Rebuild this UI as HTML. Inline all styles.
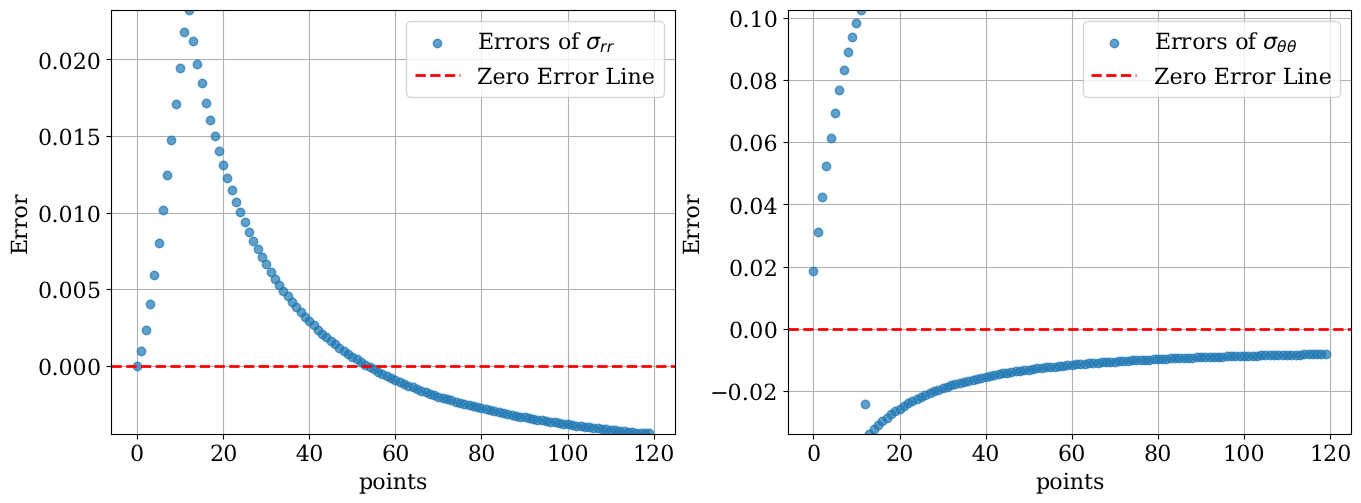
<!DOCTYPE html>
<html><head><meta charset="utf-8"><title>Error plots</title>
<style>html,body{margin:0;padding:0;background:#fff}svg{display:block}</style></head>
<body>
<svg width="1361" height="503" viewBox="0 0 1361 503">
<rect width="1361" height="503" fill="#fff"/>
<clipPath id="c1"><rect x="111.50" y="10.50" width="564.00" height="424.00"/></clipPath>
<g fill="#b0b0b0">
<rect x="136.944" y="10.5" width="1.111" height="424.0"/>
<rect x="222.944" y="10.5" width="1.111" height="424.0"/>
<rect x="308.944" y="10.5" width="1.111" height="424.0"/>
<rect x="394.944" y="10.5" width="1.111" height="424.0"/>
<rect x="480.944" y="10.5" width="1.111" height="424.0"/>
<rect x="567.944" y="10.5" width="1.111" height="424.0"/>
<rect x="653.944" y="10.5" width="1.111" height="424.0"/>
<rect x="111.5" y="365.944" width="564.0" height="1.111"/>
<rect x="111.5" y="288.944" width="564.0" height="1.111"/>
<rect x="111.5" y="212.944" width="564.0" height="1.111"/>
<rect x="111.5" y="135.944" width="564.0" height="1.111"/>
<rect x="111.5" y="58.944" width="564.0" height="1.111"/>
</g>
<g clip-path="url(#c1)" fill="#1f77b4" fill-opacity="0.7" stroke="#1f77b4" stroke-opacity="0.7" stroke-width="1.50">
<circle cx="137.5" cy="366.5" r="4.17"/>
<circle cx="141.5" cy="351.5" r="4.17"/>
<circle cx="146.5" cy="330.5" r="4.17"/>
<circle cx="150.5" cy="304.5" r="4.17"/>
<circle cx="154.5" cy="275.5" r="4.17"/>
<circle cx="159.5" cy="243.5" r="4.17"/>
<circle cx="163.5" cy="210.5" r="4.17"/>
<circle cx="167.5" cy="175.5" r="4.17"/>
<circle cx="171.5" cy="140.5" r="4.17"/>
<circle cx="176.5" cy="104.5" r="4.17"/>
<circle cx="180.5" cy="68.5" r="4.17"/>
<circle cx="184.5" cy="32.5" r="4.17"/>
<circle cx="189.5" cy="10.5" r="4.17"/>
<circle cx="193.5" cy="41.5" r="4.17"/>
<circle cx="197.5" cy="64.5" r="4.17"/>
<circle cx="202.5" cy="83.5" r="4.17"/>
<circle cx="206.5" cy="103.5" r="4.17"/>
<circle cx="210.5" cy="120.5" r="4.17"/>
<circle cx="215.5" cy="136.5" r="4.17"/>
<circle cx="219.5" cy="151.5" r="4.17"/>
<circle cx="223.5" cy="165.5" r="4.17"/>
<circle cx="227.5" cy="178.5" r="4.17"/>
<circle cx="232.5" cy="190.5" r="4.17"/>
<circle cx="236.5" cy="202.5" r="4.17"/>
<circle cx="240.5" cy="212.5" r="4.17"/>
<circle cx="245.5" cy="222.5" r="4.17"/>
<circle cx="249.5" cy="232.5" r="4.17"/>
<circle cx="253.5" cy="241.5" r="4.17"/>
<circle cx="258.5" cy="249.5" r="4.17"/>
<circle cx="262.5" cy="257.5" r="4.17"/>
<circle cx="266.5" cy="264.5" r="4.17"/>
<circle cx="271.5" cy="272.5" r="4.17"/>
<circle cx="275.5" cy="279.5" r="4.17"/>
<circle cx="279.5" cy="285.5" r="4.17"/>
<circle cx="283.5" cy="291.5" r="4.17"/>
<circle cx="288.5" cy="296.5" r="4.17"/>
<circle cx="292.5" cy="302.5" r="4.17"/>
<circle cx="296.5" cy="307.5" r="4.17"/>
<circle cx="301.5" cy="312.5" r="4.17"/>
<circle cx="305.5" cy="317.5" r="4.17"/>
<circle cx="309.5" cy="321.5" r="4.17"/>
<circle cx="314.5" cy="325.5" r="4.17"/>
<circle cx="318.5" cy="330.5" r="4.17"/>
<circle cx="322.5" cy="334.5" r="4.17"/>
<circle cx="326.5" cy="337.5" r="4.17"/>
<circle cx="331.5" cy="341.5" r="4.17"/>
<circle cx="335.5" cy="344.5" r="4.17"/>
<circle cx="339.5" cy="348.5" r="4.17"/>
<circle cx="344.5" cy="351.5" r="4.17"/>
<circle cx="348.5" cy="354.5" r="4.17"/>
<circle cx="352.5" cy="357.5" r="4.17"/>
<circle cx="357.5" cy="359.5" r="4.17"/>
<circle cx="361.5" cy="362.5" r="4.17"/>
<circle cx="365.5" cy="365.5" r="4.17"/>
<circle cx="370.5" cy="367.5" r="4.17"/>
<circle cx="374.5" cy="369.5" r="4.17"/>
<circle cx="378.5" cy="372.5" r="4.17"/>
<circle cx="382.5" cy="374.5" r="4.17"/>
<circle cx="387.5" cy="376.5" r="4.17"/>
<circle cx="391.5" cy="378.5" r="4.17"/>
<circle cx="395.5" cy="380.5" r="4.17"/>
<circle cx="400.5" cy="382.5" r="4.17"/>
<circle cx="404.5" cy="384.5" r="4.17"/>
<circle cx="408.5" cy="386.5" r="4.17"/>
<circle cx="413.5" cy="387.5" r="4.17"/>
<circle cx="417.5" cy="389.5" r="4.17"/>
<circle cx="421.5" cy="391.5" r="4.17"/>
<circle cx="426.5" cy="392.5" r="4.17"/>
<circle cx="430.5" cy="394.5" r="4.17"/>
<circle cx="434.5" cy="395.5" r="4.17"/>
<circle cx="438.5" cy="397.5" r="4.17"/>
<circle cx="443.5" cy="398.5" r="4.17"/>
<circle cx="447.5" cy="399.5" r="4.17"/>
<circle cx="451.5" cy="400.5" r="4.17"/>
<circle cx="456.5" cy="402.5" r="4.17"/>
<circle cx="460.5" cy="403.5" r="4.17"/>
<circle cx="464.5" cy="404.5" r="4.17"/>
<circle cx="469.5" cy="405.5" r="4.17"/>
<circle cx="473.5" cy="406.5" r="4.17"/>
<circle cx="477.5" cy="407.5" r="4.17"/>
<circle cx="481.5" cy="408.5" r="4.17"/>
<circle cx="486.5" cy="409.5" r="4.17"/>
<circle cx="490.5" cy="410.5" r="4.17"/>
<circle cx="494.5" cy="411.5" r="4.17"/>
<circle cx="499.5" cy="412.5" r="4.17"/>
<circle cx="503.5" cy="413.5" r="4.17"/>
<circle cx="507.5" cy="414.5" r="4.17"/>
<circle cx="512.5" cy="415.5" r="4.17"/>
<circle cx="516.5" cy="416.5" r="4.17"/>
<circle cx="520.5" cy="417.5" r="4.17"/>
<circle cx="525.5" cy="417.5" r="4.17"/>
<circle cx="529.5" cy="418.5" r="4.17"/>
<circle cx="533.5" cy="419.5" r="4.17"/>
<circle cx="537.5" cy="420.5" r="4.17"/>
<circle cx="542.5" cy="420.5" r="4.17"/>
<circle cx="546.5" cy="421.5" r="4.17"/>
<circle cx="550.5" cy="422.5" r="4.17"/>
<circle cx="555.5" cy="422.5" r="4.17"/>
<circle cx="559.5" cy="423.5" r="4.17"/>
<circle cx="563.5" cy="424.5" r="4.17"/>
<circle cx="568.5" cy="424.5" r="4.17"/>
<circle cx="572.5" cy="425.5" r="4.17"/>
<circle cx="576.5" cy="426.5" r="4.17"/>
<circle cx="581.5" cy="426.5" r="4.17"/>
<circle cx="585.5" cy="427.5" r="4.17"/>
<circle cx="589.5" cy="427.5" r="4.17"/>
<circle cx="593.5" cy="428.5" r="4.17"/>
<circle cx="598.5" cy="428.5" r="4.17"/>
<circle cx="602.5" cy="429.5" r="4.17"/>
<circle cx="606.5" cy="429.5" r="4.17"/>
<circle cx="611.5" cy="430.5" r="4.17"/>
<circle cx="615.5" cy="430.5" r="4.17"/>
<circle cx="619.5" cy="431.5" r="4.17"/>
<circle cx="624.5" cy="431.5" r="4.17"/>
<circle cx="628.5" cy="432.5" r="4.17"/>
<circle cx="632.5" cy="432.5" r="4.17"/>
<circle cx="636.5" cy="433.5" r="4.17"/>
<circle cx="641.5" cy="433.5" r="4.17"/>
<circle cx="645.5" cy="433.5" r="4.17"/>
<circle cx="649.5" cy="433.5" r="4.17"/>
</g>
<g fill="#ff0000"><rect x="111.50" y="365.111" width="10.28" height="2.778"/><rect x="126.22" y="365.111" width="10.28" height="2.778"/><rect x="140.94" y="365.111" width="10.28" height="2.778"/><rect x="155.67" y="365.111" width="10.28" height="2.778"/><rect x="170.39" y="365.111" width="10.28" height="2.778"/><rect x="185.11" y="365.111" width="10.28" height="2.778"/><rect x="199.83" y="365.111" width="10.28" height="2.778"/><rect x="214.56" y="365.111" width="10.28" height="2.778"/><rect x="229.28" y="365.111" width="10.28" height="2.778"/><rect x="244.00" y="365.111" width="10.28" height="2.778"/><rect x="258.72" y="365.111" width="10.28" height="2.778"/><rect x="273.44" y="365.111" width="10.28" height="2.778"/><rect x="288.17" y="365.111" width="10.28" height="2.778"/><rect x="302.89" y="365.111" width="10.28" height="2.778"/><rect x="317.61" y="365.111" width="10.28" height="2.778"/><rect x="332.33" y="365.111" width="10.28" height="2.778"/><rect x="347.06" y="365.111" width="10.28" height="2.778"/><rect x="361.78" y="365.111" width="10.28" height="2.778"/><rect x="376.50" y="365.111" width="10.28" height="2.778"/><rect x="391.22" y="365.111" width="10.28" height="2.778"/><rect x="405.94" y="365.111" width="10.28" height="2.778"/><rect x="420.67" y="365.111" width="10.28" height="2.778"/><rect x="435.39" y="365.111" width="10.28" height="2.778"/><rect x="450.11" y="365.111" width="10.28" height="2.778"/><rect x="464.83" y="365.111" width="10.28" height="2.778"/><rect x="479.56" y="365.111" width="10.28" height="2.778"/><rect x="494.28" y="365.111" width="10.28" height="2.778"/><rect x="509.00" y="365.111" width="10.28" height="2.778"/><rect x="523.72" y="365.111" width="10.28" height="2.778"/><rect x="538.44" y="365.111" width="10.28" height="2.778"/><rect x="553.17" y="365.111" width="10.28" height="2.778"/><rect x="567.89" y="365.111" width="10.28" height="2.778"/><rect x="582.61" y="365.111" width="10.28" height="2.778"/><rect x="597.33" y="365.111" width="10.28" height="2.778"/><rect x="612.06" y="365.111" width="10.28" height="2.778"/><rect x="626.78" y="365.111" width="10.28" height="2.778"/><rect x="641.50" y="365.111" width="10.28" height="2.778"/><rect x="656.22" y="365.111" width="10.28" height="2.778"/><rect x="670.94" y="365.111" width="4.56" height="2.778"/></g>
<g fill="#000">
<rect x="136.944" y="434.5" width="1.111" height="5.0"/>
<rect x="222.944" y="434.5" width="1.111" height="5.0"/>
<rect x="308.944" y="434.5" width="1.111" height="5.0"/>
<rect x="394.944" y="434.5" width="1.111" height="5.0"/>
<rect x="480.944" y="434.5" width="1.111" height="5.0"/>
<rect x="567.944" y="434.5" width="1.111" height="5.0"/>
<rect x="653.944" y="434.5" width="1.111" height="5.0"/>
<rect x="106.5" y="365.944" width="5.0" height="1.111"/>
<rect x="106.5" y="288.944" width="5.0" height="1.111"/>
<rect x="106.5" y="212.944" width="5.0" height="1.111"/>
<rect x="106.5" y="135.944" width="5.0" height="1.111"/>
<rect x="106.5" y="58.944" width="5.0" height="1.111"/>
</g>
<rect x="111.5" y="10.5" width="564.0" height="424.0" fill="none" stroke="#000" stroke-width="1.11" stroke-linejoin="miter"/>
<g font-family="'DejaVu Serif','Liberation Serif',serif" font-size="22.22px" fill="#000" style="font-kerning:none;font-variant-ligatures:none;text-rendering:geometricPrecision">
<text id="a1x0" x="129.93" y="460.70">0</text>
<text id="a1x1" x="210.06 223.28" y="460.70">20</text>
<text id="a1x2" x="295.86 309.28" y="460.70">40</text>
<text id="a1x3" x="382.06 395.28" y="460.70">60</text>
<text id="a1x4" x="467.86 481.18" y="460.70">80</text>
<text id="a1x5" x="546.89 560.31 574.55" y="460.70">100</text>
<text id="a1x6" x="632.89 646.11 660.25" y="460.70">120</text>
<text id="a1xl" x="358.92 372.24 385.71 392.72 406.94 416.06" y="489.40">points</text>
<text id="a1y0" x="37.97 51.50 58.46 72.60 87.04" y="374.50">0.000</text>
<text id="a1y1" x="37.97 51.50 58.46 72.60 87.04" y="297.50">0.005</text>
<text id="a1y2" x="37.97 51.50 58.46 72.50 86.74" y="221.50">0.010</text>
<text id="a1y3" x="37.97 51.50 58.46 72.50 86.74" y="144.50">0.015</text>
<text id="a1y4" x="37.97 51.50 58.46 72.80 86.74" y="68.50">0.020</text>
<g transform="translate(27.20 224.20) rotate(-90)"><text id="a1yl" x="-30.83 -15.72 -4.91 5.72 19.09" y="0.00">Error</text></g>
<rect x="406.5" y="21.5" width="258.0" height="76.0" rx="4.44" ry="4.44" fill="#fff" fill-opacity="0.8"/><g opacity="0.8" fill="#ccc" stroke="none"><rect x="410.94" y="20.806" width="249.12" height="1.389"/><rect x="410.94" y="96.806" width="249.12" height="1.389"/><rect x="405.806" y="25.94" width="1.389" height="67.12"/><rect x="663.806" y="25.94" width="1.389" height="67.12"/><path d="M410.940 20.806A5.134 5.134 0 0 0 405.806 25.940L407.194 25.940A3.746 3.746 0 0 1 410.940 22.194Z"/><path d="M660.060 20.806A5.134 5.134 0 0 1 665.194 25.940L663.806 25.940A3.746 3.746 0 0 0 660.060 22.194Z"/><path d="M410.940 98.194A5.134 5.134 0 0 1 405.806 93.060L407.194 93.060A3.746 3.746 0 0 0 410.940 96.806Z"/><path d="M660.060 98.194A5.134 5.134 0 0 0 665.194 93.060L663.806 93.060A3.746 3.746 0 0 1 660.060 96.806Z"/></g>
<circle cx="437.5" cy="43.5" r="4.17" fill="#1f77b4" fill-opacity="0.7" stroke="#1f77b4" stroke-opacity="0.7" stroke-width="1.50"/>
<g fill="#ff0000"><rect x="415.50" y="74.111" width="10.28" height="2.778"/><rect x="430.22" y="74.111" width="10.28" height="2.778"/><rect x="444.94" y="74.111" width="10.28" height="2.778"/><rect x="459.67" y="74.111" width="0.83" height="2.778"/></g>
<text id="a1l1" x="477.89 493.81 503.92 515.04 527.92 539.04 550.70 558.01 570.89" y="48.71">Errors of</text>
<text id="a1sg" x="586.10" y="49.21" font-family="'DejaVu Sans','Liberation Sans',sans-serif" font-style="italic">σ</text>
<text id="a1sb" x="599.90 606.79" y="52.31" font-family="'DejaVu Sans','Liberation Sans',sans-serif" font-style="italic" font-size="15.56px">rr</text>
<text id="a1l2" x="477.09 492.53 505.57 516.19 529.67 536.83 553.05 563.57 574.40 587.87 598.48 605.55 620.21 627.41 641.72" y="83.51">Zero Error Line</text>
</g>
<clipPath id="c2"><rect x="788.50" y="10.50" width="563.00" height="424.00"/></clipPath>
<g fill="#b0b0b0">
<rect x="812.944" y="10.5" width="1.111" height="424.0"/>
<rect x="899.944" y="10.5" width="1.111" height="424.0"/>
<rect x="985.944" y="10.5" width="1.111" height="424.0"/>
<rect x="1071.944" y="10.5" width="1.111" height="424.0"/>
<rect x="1157.944" y="10.5" width="1.111" height="424.0"/>
<rect x="1243.944" y="10.5" width="1.111" height="424.0"/>
<rect x="1329.944" y="10.5" width="1.111" height="424.0"/>
<rect x="788.5" y="390.944" width="563.0" height="1.111"/>
<rect x="788.5" y="328.944" width="563.0" height="1.111"/>
<rect x="788.5" y="266.944" width="563.0" height="1.111"/>
<rect x="788.5" y="203.944" width="563.0" height="1.111"/>
<rect x="788.5" y="141.944" width="563.0" height="1.111"/>
<rect x="788.5" y="79.944" width="563.0" height="1.111"/>
<rect x="788.5" y="17.944" width="563.0" height="1.111"/>
</g>
<g clip-path="url(#c2)" fill="#1f77b4" fill-opacity="0.7" stroke="#1f77b4" stroke-opacity="0.7" stroke-width="1.50">
<circle cx="813.5" cy="271.5" r="4.17"/>
<circle cx="818.5" cy="232.5" r="4.17"/>
<circle cx="822.5" cy="197.5" r="4.17"/>
<circle cx="826.5" cy="166.5" r="4.17"/>
<circle cx="831.5" cy="138.5" r="4.17"/>
<circle cx="835.5" cy="113.5" r="4.17"/>
<circle cx="839.5" cy="90.5" r="4.17"/>
<circle cx="844.5" cy="70.5" r="4.17"/>
<circle cx="848.5" cy="52.5" r="4.17"/>
<circle cx="852.5" cy="37.5" r="4.17"/>
<circle cx="856.5" cy="23.5" r="4.17"/>
<circle cx="861.5" cy="10.5" r="4.17"/>
<circle cx="865.5" cy="404.5" r="4.17"/>
<circle cx="869.5" cy="434.5" r="4.17"/>
<circle cx="874.5" cy="429.5" r="4.17"/>
<circle cx="878.5" cy="425.5" r="4.17"/>
<circle cx="882.5" cy="421.5" r="4.17"/>
<circle cx="887.5" cy="418.5" r="4.17"/>
<circle cx="891.5" cy="414.5" r="4.17"/>
<circle cx="895.5" cy="411.5" r="4.17"/>
<circle cx="900.5" cy="409.5" r="4.17"/>
<circle cx="904.5" cy="406.5" r="4.17"/>
<circle cx="908.5" cy="403.5" r="4.17"/>
<circle cx="912.5" cy="401.5" r="4.17"/>
<circle cx="917.5" cy="399.5" r="4.17"/>
<circle cx="921.5" cy="397.5" r="4.17"/>
<circle cx="925.5" cy="395.5" r="4.17"/>
<circle cx="930.5" cy="393.5" r="4.17"/>
<circle cx="934.5" cy="391.5" r="4.17"/>
<circle cx="938.5" cy="390.5" r="4.17"/>
<circle cx="943.5" cy="388.5" r="4.17"/>
<circle cx="947.5" cy="387.5" r="4.17"/>
<circle cx="951.5" cy="385.5" r="4.17"/>
<circle cx="955.5" cy="384.5" r="4.17"/>
<circle cx="960.5" cy="383.5" r="4.17"/>
<circle cx="964.5" cy="382.5" r="4.17"/>
<circle cx="968.5" cy="381.5" r="4.17"/>
<circle cx="973.5" cy="380.5" r="4.17"/>
<circle cx="977.5" cy="379.5" r="4.17"/>
<circle cx="981.5" cy="378.5" r="4.17"/>
<circle cx="986.5" cy="377.5" r="4.17"/>
<circle cx="990.5" cy="376.5" r="4.17"/>
<circle cx="994.5" cy="375.5" r="4.17"/>
<circle cx="999.5" cy="374.5" r="4.17"/>
<circle cx="1003.5" cy="373.5" r="4.17"/>
<circle cx="1007.5" cy="373.5" r="4.17"/>
<circle cx="1011.5" cy="372.5" r="4.17"/>
<circle cx="1016.5" cy="371.5" r="4.17"/>
<circle cx="1020.5" cy="371.5" r="4.17"/>
<circle cx="1024.5" cy="370.5" r="4.17"/>
<circle cx="1029.5" cy="370.5" r="4.17"/>
<circle cx="1033.5" cy="369.5" r="4.17"/>
<circle cx="1037.5" cy="368.5" r="4.17"/>
<circle cx="1042.5" cy="368.5" r="4.17"/>
<circle cx="1046.5" cy="367.5" r="4.17"/>
<circle cx="1050.5" cy="367.5" r="4.17"/>
<circle cx="1055.5" cy="367.5" r="4.17"/>
<circle cx="1059.5" cy="366.5" r="4.17"/>
<circle cx="1063.5" cy="366.5" r="4.17"/>
<circle cx="1067.5" cy="365.5" r="4.17"/>
<circle cx="1072.5" cy="365.5" r="4.17"/>
<circle cx="1076.5" cy="364.5" r="4.17"/>
<circle cx="1080.5" cy="364.5" r="4.17"/>
<circle cx="1085.5" cy="364.5" r="4.17"/>
<circle cx="1089.5" cy="363.5" r="4.17"/>
<circle cx="1093.5" cy="363.5" r="4.17"/>
<circle cx="1098.5" cy="363.5" r="4.17"/>
<circle cx="1102.5" cy="362.5" r="4.17"/>
<circle cx="1106.5" cy="362.5" r="4.17"/>
<circle cx="1110.5" cy="362.5" r="4.17"/>
<circle cx="1115.5" cy="362.5" r="4.17"/>
<circle cx="1119.5" cy="361.5" r="4.17"/>
<circle cx="1123.5" cy="361.5" r="4.17"/>
<circle cx="1128.5" cy="361.5" r="4.17"/>
<circle cx="1132.5" cy="360.5" r="4.17"/>
<circle cx="1136.5" cy="360.5" r="4.17"/>
<circle cx="1141.5" cy="360.5" r="4.17"/>
<circle cx="1145.5" cy="360.5" r="4.17"/>
<circle cx="1149.5" cy="360.5" r="4.17"/>
<circle cx="1154.5" cy="359.5" r="4.17"/>
<circle cx="1158.5" cy="359.5" r="4.17"/>
<circle cx="1162.5" cy="359.5" r="4.17"/>
<circle cx="1166.5" cy="359.5" r="4.17"/>
<circle cx="1171.5" cy="358.5" r="4.17"/>
<circle cx="1175.5" cy="358.5" r="4.17"/>
<circle cx="1179.5" cy="358.5" r="4.17"/>
<circle cx="1184.5" cy="358.5" r="4.17"/>
<circle cx="1188.5" cy="358.5" r="4.17"/>
<circle cx="1192.5" cy="358.5" r="4.17"/>
<circle cx="1197.5" cy="357.5" r="4.17"/>
<circle cx="1201.5" cy="357.5" r="4.17"/>
<circle cx="1205.5" cy="357.5" r="4.17"/>
<circle cx="1210.5" cy="357.5" r="4.17"/>
<circle cx="1214.5" cy="357.5" r="4.17"/>
<circle cx="1218.5" cy="357.5" r="4.17"/>
<circle cx="1222.5" cy="357.5" r="4.17"/>
<circle cx="1227.5" cy="356.5" r="4.17"/>
<circle cx="1231.5" cy="356.5" r="4.17"/>
<circle cx="1235.5" cy="356.5" r="4.17"/>
<circle cx="1240.5" cy="356.5" r="4.17"/>
<circle cx="1244.5" cy="356.5" r="4.17"/>
<circle cx="1248.5" cy="356.5" r="4.17"/>
<circle cx="1253.5" cy="356.5" r="4.17"/>
<circle cx="1257.5" cy="356.5" r="4.17"/>
<circle cx="1261.5" cy="355.5" r="4.17"/>
<circle cx="1265.5" cy="355.5" r="4.17"/>
<circle cx="1270.5" cy="355.5" r="4.17"/>
<circle cx="1274.5" cy="355.5" r="4.17"/>
<circle cx="1278.5" cy="355.5" r="4.17"/>
<circle cx="1283.5" cy="355.5" r="4.17"/>
<circle cx="1287.5" cy="355.5" r="4.17"/>
<circle cx="1291.5" cy="355.5" r="4.17"/>
<circle cx="1296.5" cy="355.5" r="4.17"/>
<circle cx="1300.5" cy="355.5" r="4.17"/>
<circle cx="1304.5" cy="354.5" r="4.17"/>
<circle cx="1309.5" cy="354.5" r="4.17"/>
<circle cx="1313.5" cy="354.5" r="4.17"/>
<circle cx="1317.5" cy="354.5" r="4.17"/>
<circle cx="1321.5" cy="354.5" r="4.17"/>
<circle cx="1326.5" cy="354.5" r="4.17"/>
</g>
<g fill="#ff0000"><rect x="788.50" y="328.111" width="10.28" height="2.778"/><rect x="803.22" y="328.111" width="10.28" height="2.778"/><rect x="817.94" y="328.111" width="10.28" height="2.778"/><rect x="832.67" y="328.111" width="10.28" height="2.778"/><rect x="847.39" y="328.111" width="10.28" height="2.778"/><rect x="862.11" y="328.111" width="10.28" height="2.778"/><rect x="876.83" y="328.111" width="10.28" height="2.778"/><rect x="891.56" y="328.111" width="10.28" height="2.778"/><rect x="906.28" y="328.111" width="10.28" height="2.778"/><rect x="921.00" y="328.111" width="10.28" height="2.778"/><rect x="935.72" y="328.111" width="10.28" height="2.778"/><rect x="950.44" y="328.111" width="10.28" height="2.778"/><rect x="965.17" y="328.111" width="10.28" height="2.778"/><rect x="979.89" y="328.111" width="10.28" height="2.778"/><rect x="994.61" y="328.111" width="10.28" height="2.778"/><rect x="1009.33" y="328.111" width="10.28" height="2.778"/><rect x="1024.06" y="328.111" width="10.28" height="2.778"/><rect x="1038.78" y="328.111" width="10.28" height="2.778"/><rect x="1053.50" y="328.111" width="10.28" height="2.778"/><rect x="1068.22" y="328.111" width="10.28" height="2.778"/><rect x="1082.94" y="328.111" width="10.28" height="2.778"/><rect x="1097.67" y="328.111" width="10.28" height="2.778"/><rect x="1112.39" y="328.111" width="10.28" height="2.778"/><rect x="1127.11" y="328.111" width="10.28" height="2.778"/><rect x="1141.83" y="328.111" width="10.28" height="2.778"/><rect x="1156.56" y="328.111" width="10.28" height="2.778"/><rect x="1171.28" y="328.111" width="10.28" height="2.778"/><rect x="1186.00" y="328.111" width="10.28" height="2.778"/><rect x="1200.72" y="328.111" width="10.28" height="2.778"/><rect x="1215.44" y="328.111" width="10.28" height="2.778"/><rect x="1230.17" y="328.111" width="10.28" height="2.778"/><rect x="1244.89" y="328.111" width="10.28" height="2.778"/><rect x="1259.61" y="328.111" width="10.28" height="2.778"/><rect x="1274.33" y="328.111" width="10.28" height="2.778"/><rect x="1289.06" y="328.111" width="10.28" height="2.778"/><rect x="1303.78" y="328.111" width="10.28" height="2.778"/><rect x="1318.50" y="328.111" width="10.28" height="2.778"/><rect x="1333.22" y="328.111" width="10.28" height="2.778"/><rect x="1347.94" y="328.111" width="3.56" height="2.778"/></g>
<g fill="#000">
<rect x="812.944" y="434.5" width="1.111" height="5.0"/>
<rect x="899.944" y="434.5" width="1.111" height="5.0"/>
<rect x="985.944" y="434.5" width="1.111" height="5.0"/>
<rect x="1071.944" y="434.5" width="1.111" height="5.0"/>
<rect x="1157.944" y="434.5" width="1.111" height="5.0"/>
<rect x="1243.944" y="434.5" width="1.111" height="5.0"/>
<rect x="1329.944" y="434.5" width="1.111" height="5.0"/>
<rect x="783.5" y="390.944" width="5.0" height="1.111"/>
<rect x="783.5" y="328.944" width="5.0" height="1.111"/>
<rect x="783.5" y="266.944" width="5.0" height="1.111"/>
<rect x="783.5" y="203.944" width="5.0" height="1.111"/>
<rect x="783.5" y="141.944" width="5.0" height="1.111"/>
<rect x="783.5" y="79.944" width="5.0" height="1.111"/>
<rect x="783.5" y="17.944" width="5.0" height="1.111"/>
</g>
<rect x="788.5" y="10.5" width="563.0" height="424.0" fill="none" stroke="#000" stroke-width="1.11" stroke-linejoin="miter"/>
<g font-family="'DejaVu Serif','Liberation Serif',serif" font-size="22.22px" fill="#000" style="font-kerning:none;font-variant-ligatures:none;text-rendering:geometricPrecision">
<text id="a2x0" x="806.93" y="460.70">0</text>
<text id="a2x1" x="886.06 899.28" y="460.70">20</text>
<text id="a2x2" x="971.86 985.28" y="460.70">40</text>
<text id="a2x3" x="1058.06 1071.28" y="460.70">60</text>
<text id="a2x4" x="1143.96 1157.18" y="460.70">80</text>
<text id="a2x5" x="1222.89 1236.31 1250.55" y="460.70">100</text>
<text id="a2x6" x="1310.09 1323.11 1337.25" y="460.70">120</text>
<text id="a2xl" x="1035.92 1049.24 1062.71 1069.72 1084.04 1093.06" y="489.40">points</text>
<text id="a2y0" x="709.99 727.60 741.74 749.00 763.32" y="399.50">−0.02</text>
<text id="a2y1" x="729.10 742.52 749.28 763.72" y="337.50">0.00</text>
<text id="a2y2" x="729.10 742.52 749.28 763.82" y="275.50">0.02</text>
<text id="a2y3" x="729.10 742.52 749.28 763.42" y="213.50">0.04</text>
<text id="a2y4" x="729.10 742.52 749.28 763.62" y="150.50">0.06</text>
<text id="a2y5" x="729.10 742.52 749.28 763.62" y="88.50">0.08</text>
<text id="a2y6" x="729.10 742.42 749.38 763.72" y="26.50">0.10</text>
<g transform="translate(699.00 224.20) rotate(-90)"><text id="a2yl" x="-30.83 -15.72 -4.91 5.72 19.09" y="0.00">Error</text></g>
<rect x="1083.5" y="21.5" width="257.0" height="76.0" rx="4.44" ry="4.44" fill="#fff" fill-opacity="0.8"/><g opacity="0.8" fill="#ccc" stroke="none"><rect x="1087.94" y="20.806" width="248.12" height="1.389"/><rect x="1087.94" y="96.806" width="248.12" height="1.389"/><rect x="1082.806" y="25.94" width="1.389" height="67.12"/><rect x="1339.806" y="25.94" width="1.389" height="67.12"/><path d="M1087.940 20.806A5.134 5.134 0 0 0 1082.806 25.940L1084.194 25.940A3.746 3.746 0 0 1 1087.940 22.194Z"/><path d="M1336.060 20.806A5.134 5.134 0 0 1 1341.194 25.940L1339.806 25.940A3.746 3.746 0 0 0 1336.060 22.194Z"/><path d="M1087.940 98.194A5.134 5.134 0 0 1 1082.806 93.060L1084.194 93.060A3.746 3.746 0 0 0 1087.940 96.806Z"/><path d="M1336.060 98.194A5.134 5.134 0 0 0 1341.194 93.060L1339.806 93.060A3.746 3.746 0 0 1 1336.060 96.806Z"/></g>
<circle cx="1114.5" cy="43.5" r="4.17" fill="#1f77b4" fill-opacity="0.7" stroke="#1f77b4" stroke-opacity="0.7" stroke-width="1.50"/>
<g fill="#ff0000"><rect x="1091.50" y="74.111" width="10.28" height="2.778"/><rect x="1106.22" y="74.111" width="10.28" height="2.778"/><rect x="1120.94" y="74.111" width="10.28" height="2.778"/><rect x="1135.67" y="74.111" width="0.83" height="2.778"/></g>
<text id="a2l1" x="1154.95 1170.97 1180.78 1192.20 1204.98 1216.20 1227.86 1235.17 1247.85" y="48.71">Errors of</text>
<text id="a2sg" x="1263.10" y="49.21" font-family="'DejaVu Sans','Liberation Sans',sans-serif" font-style="italic">σ</text>
<text id="a2sb" x="1277.00 1286.90" y="52.31" font-family="'DejaVu Sans','Liberation Sans',sans-serif" font-style="italic" font-size="15.56px">θθ</text>
<text id="a2l2" x="1154.05 1169.49 1182.53 1193.25 1206.68 1213.79 1230.01 1240.63 1251.46 1264.73 1275.49 1282.71 1297.27 1304.37 1318.68" y="83.51">Zero Error Line</text>
</g>
</svg>
</body></html>
